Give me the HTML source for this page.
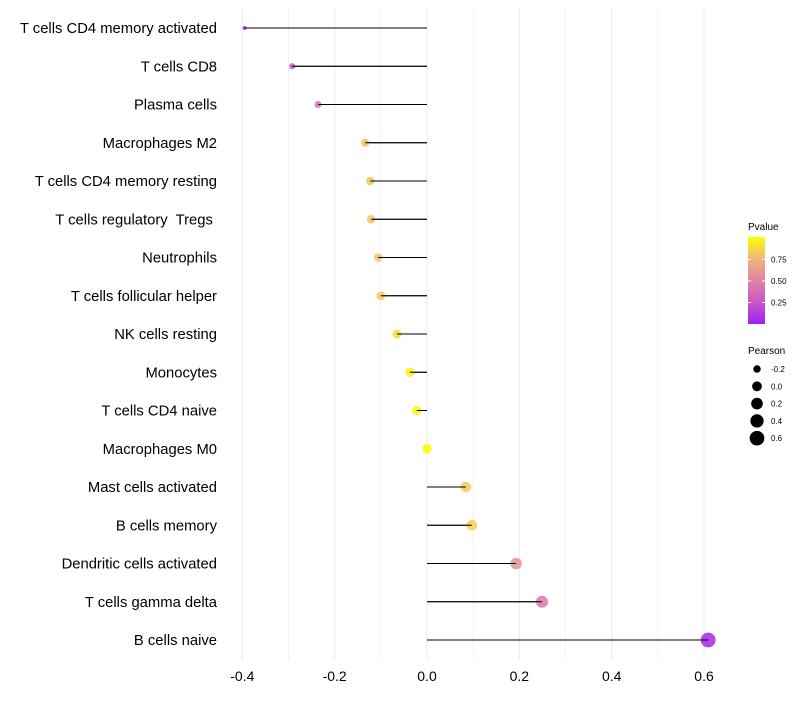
<!DOCTYPE html>
<html><head><meta charset="utf-8"><style>
body{margin:0;background:#fff;font-family:"Liberation Sans",sans-serif}
text{white-space:pre}
</style></head><body>
<svg id="chart" width="800" height="700" xmlns="http://www.w3.org/2000/svg" font-family="Liberation Sans, sans-serif"></svg>
<script>
const categories=["T cells CD4 memory activated","T cells CD8","Plasma cells","Macrophages M2","T cells CD4 memory resting","T cells regulatory  Tregs ","Neutrophils","T cells follicular helper","NK cells resting","Monocytes","T cells CD4 naive","Macrophages M0","Mast cells activated","B cells memory","Dendritic cells activated","T cells gamma delta","B cells naive"];
const pearson=[-0.395,-0.292,-0.236,-0.134,-0.123,-0.121,-0.106,-0.1,-0.065,-0.037,-0.022,0.0,0.084,0.097,0.193,0.249,0.609];
const pvalue=[0.05,0.25,0.38,0.79,0.8,0.8,0.81,0.82,0.88,0.95,0.97,0.99,0.82,0.83,0.58,0.42,0.02];
const xTicks=[-0.4,-0.2,0,0.2,0.4,0.6];
const xTickLabels=["-0.4","-0.2","0.0","0.2","0.4","0.6"];
const legendSizes=[-0.2,0,0.2,0.4,0.6];
const colorTicks=[0.25,0.5,0.75];

const svg=document.getElementById('chart');
const NS="http://www.w3.org/2000/svg";
const x0=427, xs=461.7;
const X=v=>x0+v*xs;
const Y=i=>28+i*38.25;
const R=v=>Math.sqrt(Math.max(1,24+50*v));
function mk(t,a,p){const e=document.createElementNS(NS,t);for(const k in a)e.setAttribute(k,a[k]);(p||svg).appendChild(e);return e;}
const stops=[[0,[160,32,240]],[0.25,[201,87,200]],[0.5,[223,132,166]],[0.75,[240,181,126]],[1,[255,255,0]]];
function col(p){for(let i=0;i<stops.length-1;i++){const[a,ca]=stops[i],[b,cb]=stops[i+1];if(p<=b){const t=(p-a)/(b-a);return 'rgb('+ca.map((c,j)=>Math.round(c+(cb[j]-c)*t)).join(',')+')';}}return 'rgb(255,255,0)';}

for(let k=-4;k<=6;k++){
 const v=k/10;
 const g=mk('line',{x1:X(v),x2:X(v),y1:8,y2:660,stroke:'#ebebeb','stroke-width':k%2===0?1:0.6});
 
 
}
xTicks.forEach((v,i)=>{
 const t=mk('text',{x:X(v),y:681,'text-anchor':'middle','font-size':14,fill:'#000'});
 t.textContent=xTickLabels[i];
 
 
});
categories.forEach((c,i)=>{
 const t=mk('text',{x:217,y:Y(i)+5,'text-anchor':'end','font-size':14.8,fill:'#000'});
 t.textContent=c;
 
 
 const l=mk('line',{x1:X(0),x2:X(pearson[i]),y1:Y(i),y2:Y(i),stroke:'#000','stroke-width':1});
 
 
 const d=mk('circle',{cx:X(pearson[i]),cy:Y(i),r:R(pearson[i]),fill:col(pvalue[i]),'fill-opacity':0.85});
 
 
 mk('line',{x1:X(0),x2:X(pearson[i]),y1:Y(i),y2:Y(i),stroke:'#000','stroke-width':1});
});
const lt=mk('text',{x:748,y:230,'font-size':10});lt.textContent='Pvalue';


const defs=mk('defs',{});const lg=mk('linearGradient',{id:'g',x1:0,y1:1,x2:0,y2:0},defs);
stops.forEach(s=>mk('stop',{offset:s[0],'stop-color':'rgb('+s[1].join(',')+')'},lg));
const cb=mk('rect',{x:748,y:237,width:17,height:87,fill:'url(#g)'});


const cy=p=>324-p*86;
colorTicks.forEach(p=>{
 mk('line',{x1:748,x2:751,y1:cy(p),y2:cy(p),stroke:'#fff'});mk('line',{x1:762,x2:765,y1:cy(p),y2:cy(p),stroke:'#fff'});
 const t=mk('text',{x:771,y:cy(p)+3,'font-size':8});t.textContent=p.toFixed(2);
 
 
});
const st=mk('text',{x:748,y:354,'font-size':10});st.textContent='Pearson';


legendSizes.forEach((v,i)=>{
 const yy=369+i*17.3;
 const c=mk('circle',{cx:757,cy:yy,r:R(v),fill:'#000'});
 
 
 const t=mk('text',{x:771,y:yy+3,'font-size':8});t.textContent=v.toFixed(1);
 
 
});
</script>
</body></html>
